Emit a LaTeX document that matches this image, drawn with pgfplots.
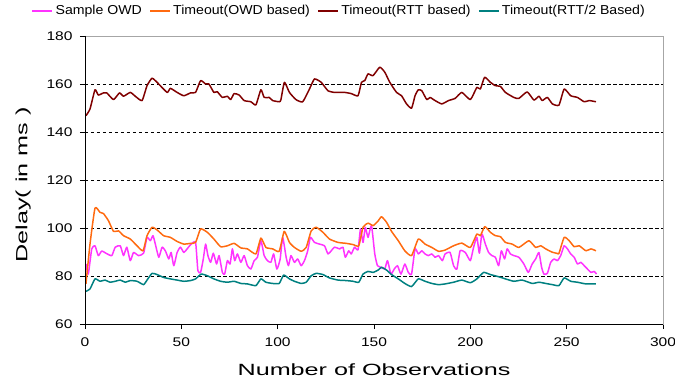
\documentclass[border=0pt]{standalone}
\usepackage{pgfplots}
\pgfplotsset{compat=1.18}
\usepackage{fontspec}
\setmainfont{Liberation Sans}
\newfontfamily\tickfont{Liberation Sans}[FakeStretch=1.24]
\newfontfamily\labfont{Liberation Sans}[FakeStretch=1.55]
\newfontfamily\legfont{Liberation Sans}[FakeStretch=1.09]
\definecolor{cmag}{HTML}{FF33FF}
\definecolor{corg}{HTML}{FF6A10}
\definecolor{cred}{HTML}{800000}
\definecolor{cteal}{HTML}{008080}
\begin{document}
\begin{tikzpicture}
\path[use as bounding box] (-85bp,-64bp) rectangle (590bp,324bp);
\begin{axis}[
  scale only axis, width=578bp, height=288bp,
  xmin=0, xmax=300, ymin=60, ymax=180,
  xtick={0,50,...,300}, ytick={60,80,...,180},
  tick align=outside, xtick pos=bottom, ytick pos=left,
  major tick length=5bp,
  major tick style={black, line width=0.6pt},
  axis line style={gray!70, line width=0.8pt},
  ymajorgrids,
  major grid style={black, line width=0.5pt, dash pattern=on 3.5bp off 2.5bp},
  /pgf/number format/assume math mode=true,
  tick label style={font=\tickfont\fontsize{12.6}{14}\selectfont},
  xticklabel style={yshift=-5bp},
  yticklabel style={xshift=-4bp},
  xlabel={Number of Observations},
  ylabel={Delay( in ms )},
  every axis x label/.style={at={(axis description cs:0.5,-0.16)}, anchor=center, font=\labfont\fontsize{16.3}{18}\selectfont},
  every axis y label/.style={at={(axis description cs:-0.107,0.483)}, anchor=center, rotate=90, font=\labfont\fontsize{16.3}{18}\selectfont},
  legend columns=4,
  legend style={draw=none, fill=none, inner sep=0pt, outer sep=0pt,
    at={(axis description cs:-0.092,1.087)}, anchor=west,
    font=\legfont\fontsize{13}{15}\selectfont,
    nodes={inner xsep=2.5bp, inner ysep=1bp},
    /tikz/every even column/.append style={column sep=5bp}},
  legend image code/.code={\draw[#1, line width=1.3pt] (0bp,0bp) -- (20bp,0bp);},
  every axis plot/.append style={line width=1.5pt, line join=round, smooth, tension=0.3},
  after end axis/.code={\draw[black, line width=0.9pt] (rel axis cs:0,1) -- (rel axis cs:0,0) -- (rel axis cs:1,0);},
]
\addplot[cmag] coordinates {(0.5,85)(1.7,80.8)(3.5,91.3)(5.2,92.6)(6.9,88.5)(8.7,90.4)(11.3,89.3)(13.9,88.5)(15.7,92)(18.3,92.6)(20,88.5)(21.7,92)(23.5,86.4)(25.2,89.8)(27.8,88.5)(30.4,89.5)(32.2,96.1)(33.9,94.7)(35.3,96.8)(36.5,93.3)(38.3,87.8)(40,92)(41.7,90.5)(43.5,87.1)(44.7,89.8)(46.1,84.3)(47.8,89.8)(49.5,92)(51.3,89.8)(53,91.3)(55.1,93.3)(57.4,94)(58.6,82.2)(60,81.5)(61.4,87.1)(62.6,93.3)(63.8,88.5)(65.2,85.7)(66.6,89.5)(68.3,85)(69.6,88.5)(71.3,81.5)(72.5,80.8)(73.9,86.4)(75.3,85)(76.5,91.3)(77.7,86.4)(79.1,89.2)(80.9,85.7)(82.6,88.5)(84.3,84.3)(86.1,82.9)(87.8,86.4)(89.5,87.8)(91.3,94.7)(93,88.5)(94.7,86.4)(96.5,85.7)(97.9,89.2)(99.6,82.9)(101.3,87.1)(102.6,96.1)(104.4,87.8)(105.6,84.3)(106.9,88.5)(108.7,85.7)(110.4,87.1)(112.2,84.3)(113.9,86.4)(115.6,90.5)(117,96.1)(119.1,94)(121.7,93.3)(124.3,92.6)(126.1,89.2)(127.8,90.5)(129.5,92)(132.2,91.3)(133.9,92)(135.1,87.8)(136.9,90.5)(138.2,89.2)(139.9,92)(141.7,90.9)(143,99.6)(144.3,94)(145.5,100.3)(146.9,96.1)(148.7,101)(150.4,89.2)(151.8,84.3)(153.9,83.6)(155.6,82.9)(157,86.4)(158.8,80.8)(160.5,82.9)(162.2,84.3)(164,80.8)(166,85)(167.8,81.5)(169.5,80.8)(171.3,91.3)(173,89.2)(174.8,90.5)(176.5,89.2)(178.2,88.5)(180,89.2)(181.7,87.8)(183.5,88.5)(185.5,86.4)(186.9,89.2)(189.5,89.8)(191.3,84.3)(193,82.9)(194.7,90.5)(197.4,89.8)(200,86.4)(201.7,92)(203.4,96.1)(204.7,89.5)(206,97.5)(207.8,93.3)(209.5,89.8)(211.2,88.5)(213,87.8)(214.7,84.3)(216.1,90.5)(217.8,87.1)(219.1,91.3)(220.8,89.2)(222.6,88.5)(225.2,87.8)(227.8,85)(230.1,81.5)(232.1,85)(233.9,87.1)(235.6,89.8)(237,83.6)(238.2,80.8)(240,81.1)(241.7,85.7)(243.5,87.1)(245.2,86.4)(246.9,88.5)(248.7,92.6)(250.4,91.3)(252.1,89.2)(253.9,87.8)(255.6,85)(257.4,85.7)(259.1,84.3)(260.8,82.9)(262.6,81.5)(264.3,81.9)(265.5,80.8)};
\addlegendentry{Sample OWD}
\addplot[corg] coordinates {(0.5,76.7)(2.6,93.3)(5.2,108.3)(7.8,106.5)(9.6,106)(12.2,103)(14.8,98.6)(17.4,98.8)(20,96.8)(23.5,95.4)(27,92.6)(30.1,90.5)(32.2,96.8)(34.8,100.3)(37.4,99.2)(40.8,96.8)(44.3,96.1)(47.8,94.4)(51.3,93.3)(54.8,93.6)(57.4,94)(60,99.6)(63.5,98.2)(66.9,95.4)(70.4,92.2)(73.9,92.6)(77.4,93.6)(80.9,91.7)(84.3,91.3)(88.7,89.2)(91.3,95.8)(93.9,91.9)(97.4,91.3)(100.8,90.3)(103.4,98.6)(106.1,94)(108.7,91.9)(112.2,90.3)(114.8,91.9)(117.4,98.8)(120,100.3)(123.5,98.2)(126.9,95.4)(131.3,94)(135.6,93.6)(139.1,93.1)(142.1,92.6)(144.3,100.3)(146.9,102)(149.6,101)(152.2,103)(153.9,104.7)(156.5,102.4)(159.1,98.6)(162.6,94.7)(166,90.5)(169.5,88.5)(173,95.4)(176.5,93.3)(180,91.9)(183.5,90.3)(186.9,90.8)(191.3,92.6)(195.6,93.7)(200,91.9)(203.4,97.5)(205.2,96.8)(207.5,100.6)(210.4,98.2)(213,96.8)(215.6,96.4)(218.2,94)(221.7,93.3)(225.2,91.9)(230.4,94.7)(233.9,91.9)(236.5,92.6)(239.1,91.3)(242.6,89.9)(245.2,89.4)(246,89.4)(248.7,96.1)(251.3,94.7)(253.9,92.2)(256.5,92.6)(260,90.5)(262.6,91.3)(265.2,90.5)};
\addlegendentry{Timeout(OWD based)}
\addplot[cred] coordinates {(0.5,146.8)(2.6,149.6)(5.2,157.6)(6.9,155.4)(9.6,156.3)(11.3,156.3)(14.8,153.5)(17.9,156.3)(20,154.9)(23.5,156.5)(26.1,154.9)(29.6,153.1)(32.2,159.3)(34.8,162.4)(37.4,160.7)(42.6,156.5)(44.3,158.2)(47.8,156.5)(51.3,155.1)(54.8,156.3)(57.4,156.5)(60,161.4)(62.6,160)(64.3,160)(66.9,156.5)(68.6,156.8)(71.3,154.4)(73.9,154.9)(75.6,153.5)(77.4,156)(80,155.4)(82.6,153.1)(86.1,152.6)(88.7,151.3)(91.3,157.6)(93,154.4)(95.6,154.4)(97.4,153.1)(100.9,152.6)(101.7,153.5)(103.5,160.7)(106.1,156.5)(109.5,153.5)(113,152.6)(116.5,157.9)(119.1,162.1)(122.6,160.7)(126.1,157.2)(129.5,156.5)(134.7,156.5)(138.2,156)(141.7,155.1)(143.5,160.7)(145.2,161.4)(146.9,164.2)(149.5,163.5)(153,167)(155.6,164.9)(158.2,160.7)(161.7,156.5)(164.3,155.1)(166.9,151.7)(169.5,149.9)(171.3,155.1)(173,157.6)(174.8,157.2)(177.4,153.5)(179.1,154.4)(181.7,153.1)(185.2,151.7)(188.7,153.1)(192.1,154)(195.6,156.5)(200,153.5)(203.4,158.6)(205.2,157.9)(207.4,162.8)(210.4,160.7)(213,159.3)(215.6,159)(218.2,156.5)(222.6,154.4)(225.2,154)(229.5,156.7)(233,153.3)(235.6,154.9)(237.3,153.1)(240,154.4)(242.6,151.7)(246,151.2)(248.7,157.9)(252.1,155.1)(255.6,154.4)(259.1,152.6)(261.7,153.1)(265.2,152.6)};
\addlegendentry{Timeout(RTT based)}
\addplot[cteal] coordinates {(0.5,73.6)(2.6,74.6)(5.2,78.8)(7.8,77.8)(10.4,78.3)(13,77.4)(15.7,77.8)(18.3,78.3)(20.9,77.4)(23.5,78.1)(27,77.8)(30.4,76.4)(32.2,78.3)(34.8,81.1)(37.4,80.6)(40.8,79.4)(44.3,78.8)(47.8,78.3)(51.3,77.8)(54.8,78.1)(57.4,78.8)(60.3,80.8)(63.5,80.1)(66.9,78.8)(70.4,77.8)(73.9,77.4)(77.4,77.8)(80.9,76.9)(84.3,76.7)(88.7,76)(91.3,78.8)(93.9,77.4)(97.4,76.9)(100.8,76.9)(103.1,80.4)(106.1,78.8)(108.7,77.8)(112.2,76.9)(114.8,77.4)(117.4,80.1)(120,81.1)(123.5,80.6)(126.9,79.2)(131.3,78.3)(135.6,78.1)(139.1,77.8)(142.1,77.4)(144.3,80.8)(146.9,81.9)(149.6,81.5)(152.2,82.5)(153.9,83.6)(156.5,82.5)(159.1,80.6)(162.6,78.8)(166,76.9)(169.5,75.6)(173,78.8)(176.5,77.8)(180,76.9)(183.5,76.4)(186.9,76.7)(191.3,77.4)(195.6,78.3)(200,77.2)(203.4,78.8)(206.9,81.5)(210.4,80.6)(214.7,79.7)(218.2,78.8)(222.6,77.8)(226.9,78.3)(232.1,76.9)(235.6,77.4)(239.1,76.9)(242.6,76.4)(246,76)(248.7,79.2)(252.1,77.8)(255.6,77.4)(260,76.7)(265.2,76.7)};
\addlegendentry{Timeout(RTT/2 Based)}
\end{axis}
\end{tikzpicture}
\end{document}
